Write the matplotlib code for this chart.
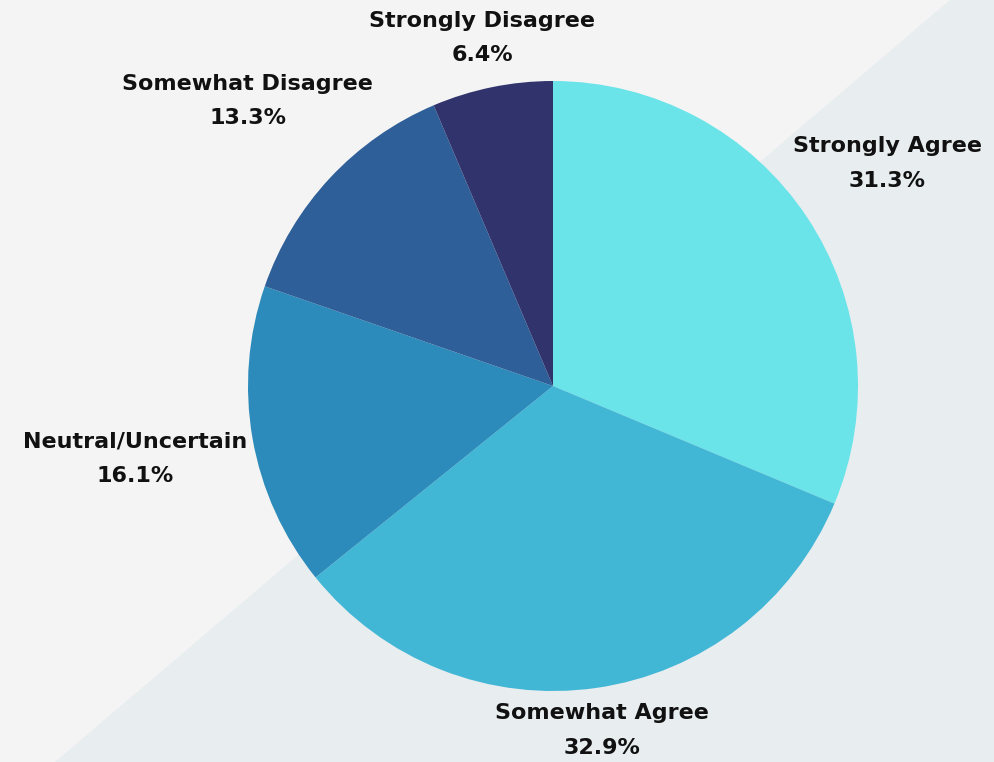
import numpy as np
import matplotlib
matplotlib.use('Agg')
import matplotlib.pyplot as plt
from matplotlib.patches import Polygon

# survey responses, clockwise from 12 o'clock
labels = ['Strongly Agree', 'Somewhat Agree', 'Neutral/Uncertain',
          'Somewhat Disagree', 'Strongly Disagree']
shares = [31.3, 32.9, 16.1, 13.3, 6.4]
colors = ['#6AE4E9', '#42B7D5', '#2C8BBA', '#2E5F98', '#31346C']

W, H = 994, 762
CX, CY, R = 553, H - 386, 305   # pie centre / radius in pixel units
PAD = 5

fig = plt.figure(figsize=(W / 100, H / 100), dpi=100, facecolor='#F4F4F4')
ax = fig.add_axes([0, 0, 1, 1])
ax.set_facecolor('#F4F4F4')

# diagonal background band
ax.add_patch(Polygon([(55, 0), (950, H), (W, H), (W, 0)], closed=True,
                     facecolor='#E8EDF0', edgecolor='none', zorder=0))

wedges, _ = ax.pie(shares, colors=colors, startangle=90, counterclock=False,
                   center=(CX, CY), radius=R,
                   wedgeprops=dict(linewidth=0, edgecolor='none'))
ax.set_xlim(0, W)
ax.set_ylim(0, H)
ax.set_aspect('equal')
ax.axis('off')

fig.canvas.draw()
renderer = fig.canvas.get_renderer()
for w, lab, val in zip(wedges, labels, shares):
    mid = np.deg2rad((w.theta1 + w.theta2) / 2)
    c, s = np.cos(mid), np.sin(mid)
    t = ax.text(0, 0, f'{lab}\n{val}%', ha='center', va='center',
                fontsize=16, fontweight='bold', color='#111111',
                family='DejaVu Sans', linespacing=1.9, zorder=5)
    bb = t.get_window_extent(renderer)
    hw, hh = bb.width / 2, bb.height / 2
    d = R + PAD + abs(c) * hw + abs(s) * (hh - 4)
    t.set_position((CX + c * d, CY + s * d))

fig.savefig('out.png', dpi=100, facecolor=fig.get_facecolor())
